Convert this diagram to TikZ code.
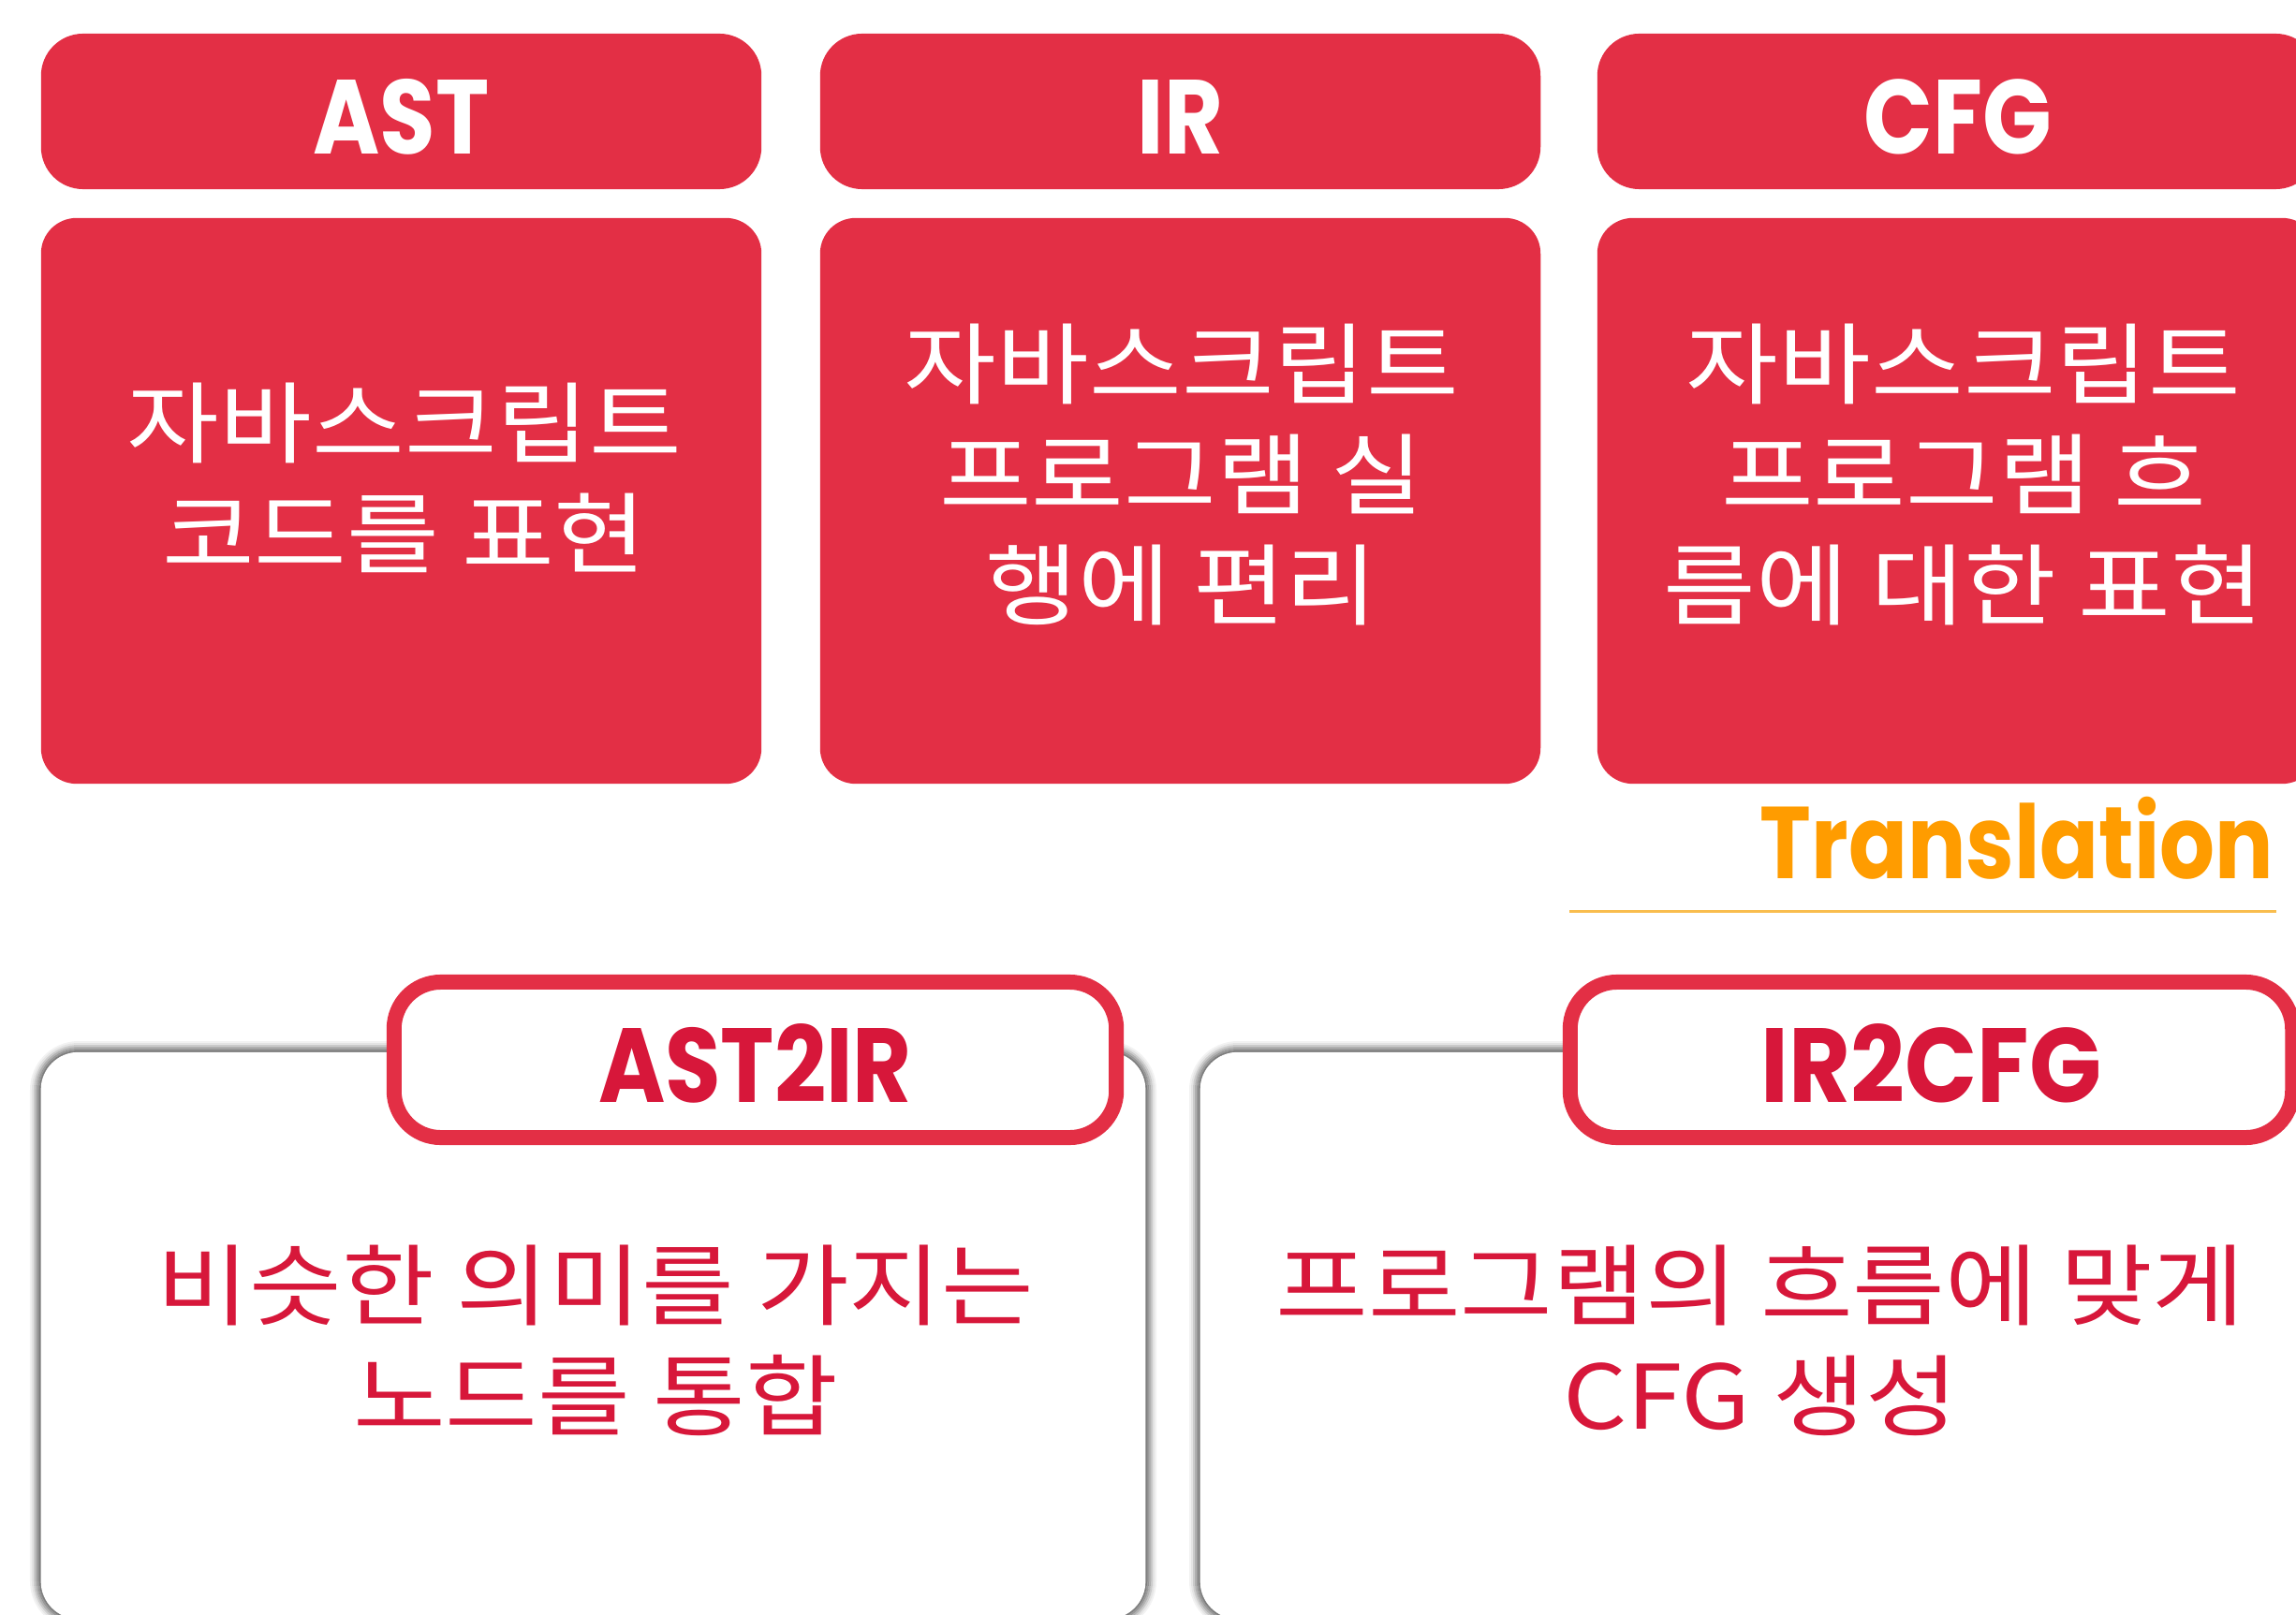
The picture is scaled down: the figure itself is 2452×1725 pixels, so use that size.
\documentclass[tikz,border=0pt]{standalone}
\usepackage{fontspec}
\usepackage{graphicx}
\setmainfont{Noto Sans CJK KR}
\newfontfamily\geo{Poppins}
\newcommand\kx[1]{\scalebox{1.13}[1]{#1}}
\newcommand\gx[1]{\scalebox{0.86}[1]{#1}}
\definecolor{redbox}{HTML}{E32F45}
\definecolor{crim}{HTML}{D7173A}
\definecolor{orng}{HTML}{FF9C00}
\definecolor{orline}{HTML}{F9BD4E}
\begin{document}
\begin{tikzpicture}[x=0.01cm,y=-0.01cm,
  hdr/.style={rectangle, rounded corners=0.45cm, fill=redbox, minimum width=7.69cm, minimum height=1.66cm, inner sep=0pt, text=white, font=\geo\bfseries\fontsize{32}{32}\selectfont},
  bodybox/.style={rectangle, rounded corners=0.38cm, fill=redbox, minimum width=7.69cm, minimum height=6.04cm, inner sep=0pt},
  btxt/.style={text=white, align=center, inner sep=0pt, font=\fontsize{27}{33.5}\selectfont},
  card/.style={rectangle, rounded corners=0.4cm, fill=white, minimum height=6.05cm, inner sep=0pt},
  lbl/.style={rectangle, rounded corners=0.5cm, draw=redbox, line width=0.16cm, fill=white, minimum width=7.71cm, minimum height=1.66cm, inner sep=0pt, text=crim, font=\geo\bfseries\fontsize{32}{32}\selectfont},
  ctxt/.style={text=crim, align=center, inner sep=0pt, font=\fontsize{27}{33.5}\selectfont}
]
\useasboundingbox (0,0) rectangle (2452,1725);
\clip (0,0) rectangle (2452,1725);

% top headers
\node[hdr] (hAST) at (428.5,119) {};
\node[hdr] (hIR) at (1260.5,119) {};
\node[hdr] (hCFG) at (2090.5,119) {};
\node[text=white, font=\geo\bfseries\fontsize{32}{32}\selectfont, inner sep=0pt] (hASTt) at (428.5,125) {\gx{AST}};
\node[text=white, font=\geo\bfseries\fontsize{32}{32}\selectfont, inner sep=0pt] (hIRt) at (1260.5,125) {\gx{IR}};
\node[text=white, font=\geo\bfseries\fontsize{32}{32}\selectfont, inner sep=0pt] (hCFGt) at (2090.5,125) {\gx{CFG}};

% bodies
\node[bodybox] (bAST) at (428.5,535) {};
\node[bodybox] (bIR) at (1260.5,535) {};
\node[bodybox] (bCFG) at (2090.5,535) {};
\node[btxt] (tAST) at (432,510) {\kx{자바스크립트}\\\kx{코드를 표현}};
\node[btxt] (tIR) at (1262,507) {\kx{자바스크립트}\\\kx{프로그램 실}\\\kx{행에 편리}};
\node[btxt] (tCFG) at (2097,507) {\kx{자바스크립트}\\\kx{프로그램 흐}\\\kx{름에 대한 표현}};

% translation
\node[font=\geo\bfseries\fontsize{31}{31}\selectfont, text=orng, anchor=base, inner sep=0pt] (trans) at (2154,938) {\scalebox{0.85}[1]{Translation}};
\coordinate (tl1) at (1676,973);
\coordinate (tl2) at (2431,973);
\draw[orline, line width=0.03cm] (tl1) -- (tl2);

% card shadows
\foreach \d/\o in {1/0.5,3/0.4,5/0.3,7/0.2,9/0.1,11/0.05} {
  \pgfmathsetmacro\rr{0.4+\d/100}
  \draw[black, opacity=\o, line width=0.02cm, rounded corners=\rr cm] (44-\d,1124-\d) rectangle (1223+\d,1729+\d);
  \draw[black, opacity=\o, line width=0.02cm, rounded corners=\rr cm] (1282-\d,1124-\d) rectangle (2478+\d,1729+\d);
}
\node[card, minimum width=11.79cm] (card1) at (633.5,1426.5) {};
\node[card, minimum width=11.96cm] (card2) at (1880,1426.5) {};

\node[lbl] (lbl1) at (806.5,1132) {};
\node[lbl] (lbl2) at (2062.5,1132) {};
\node[text=crim, font=\geo\bfseries\fontsize{32}{32}\selectfont, inner sep=0pt] (lbl1t) at (806.5,1136) {\gx{AST2IR}};
\node[text=crim, font=\geo\bfseries\fontsize{32}{32}\selectfont, inner sep=0pt] (lbl2t) at (2062.5,1136) {\scalebox{0.9}[1]{IR2CFG}};

\node[ctxt] (c1t) at (636,1432) {\kx{비슷한 의미를 가지는}\\\kx{노드를 통합}};
\node[ctxt] (c2t) at (1880,1432) {\kx{프로그램의 흐름에 맞게}\\\kx{CFG 생성}};
\end{tikzpicture}
\end{document}
